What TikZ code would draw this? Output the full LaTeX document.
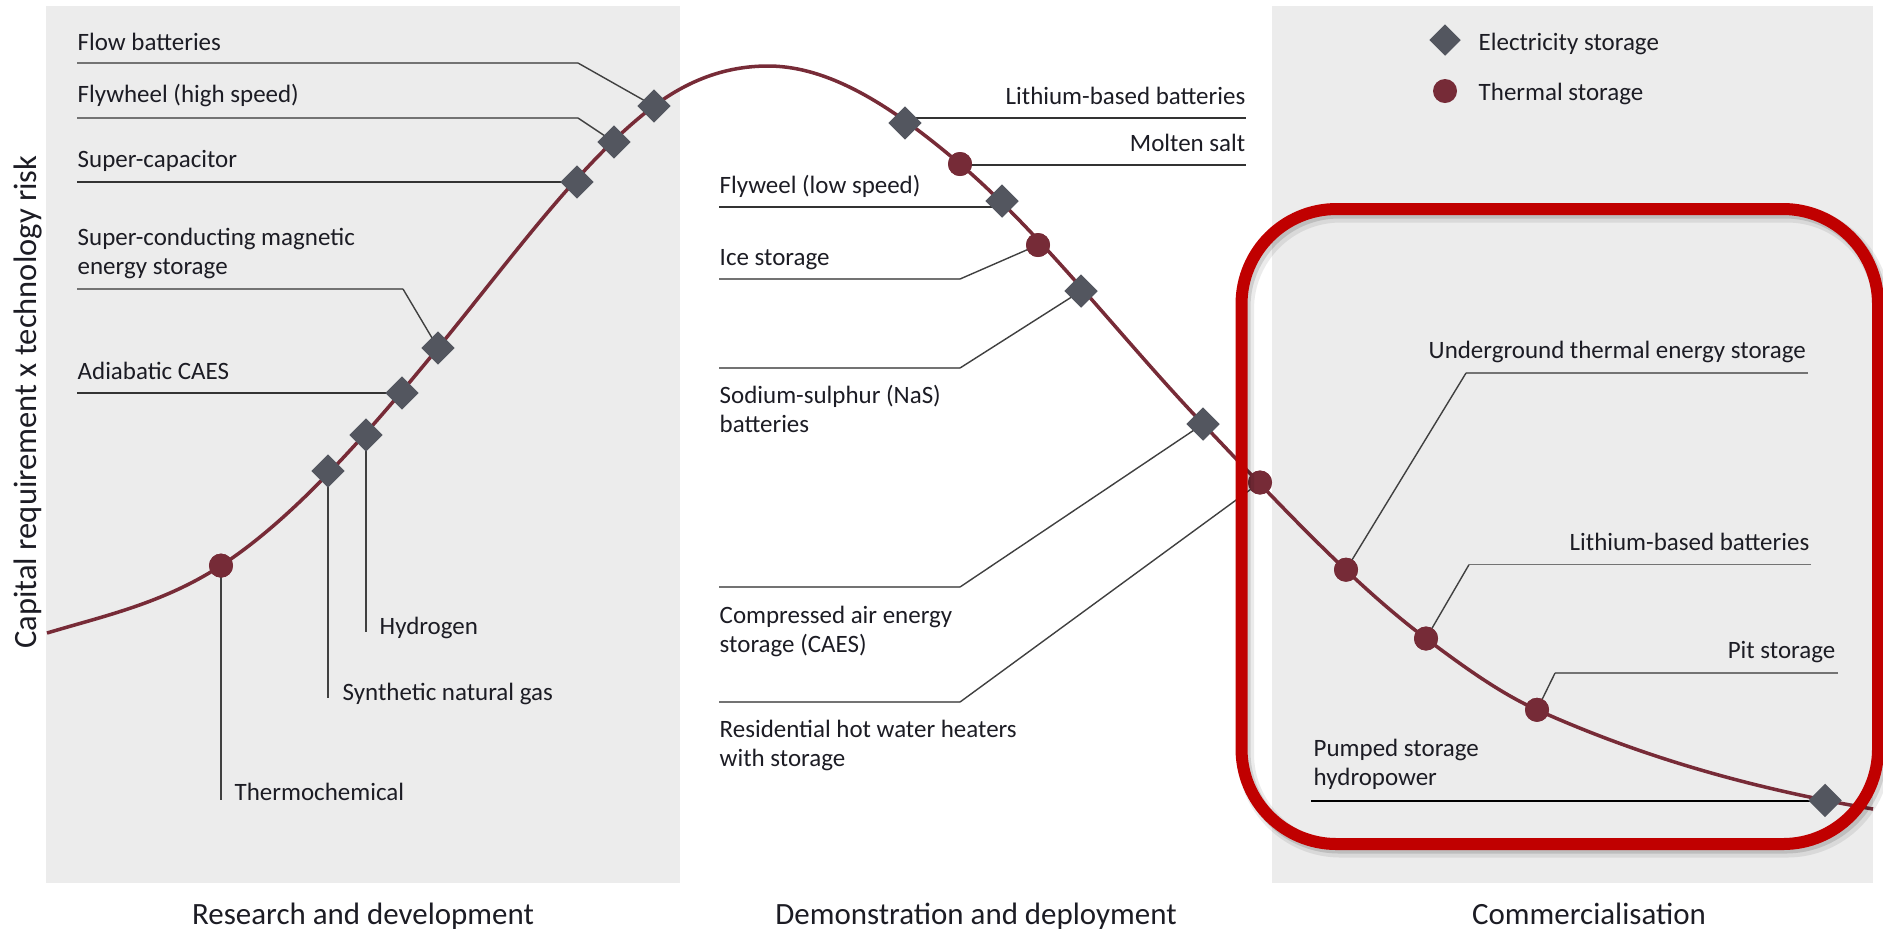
\documentclass[tikz,border=0pt]{standalone}
\usepackage{fontspec}
\setmainfont{Carlito}
\usetikzlibrary{shapes.geometric}
\definecolor{panelc}{HTML}{ECECEC}
\definecolor{curvec}{HTML}{772B37}
\definecolor{diamc}{HTML}{53565F}
\definecolor{circc}{HTML}{762B37}
\definecolor{boxred}{HTML}{C00000}
\definecolor{txt}{HTML}{1C1C24}
\begin{document}
\begin{tikzpicture}[x=0.01cm,y=-0.01cm,
  elec/.style={diamond, fill=diamc, inner sep=0pt, minimum width=0.32cm, minimum height=0.32cm},
  therm/.style={circle, fill=circc, inner sep=0pt, minimum size=0.24cm},
  lbl/.style={font=\fontsize{7.1pt}{8.2pt}\selectfont, inner sep=0pt, text=txt, align=left},
  lblr/.style={lbl, align=right},
  phase/.style={font=\fontsize{8.8pt}{10pt}\selectfont, inner sep=0pt, text=txt},
  leadh/.style={draw=black!55, line width=0.45pt},
  leadk/.style={draw=black!80, line width=0.45pt},
  leadd/.style={draw=black!75, line width=0.4pt},
]
\useasboundingbox (0,0) rectangle (1883,932);
% panels
\fill[panelc] (46,6) rectangle (680,883);
\fill[panelc] (1272,6) rectangle (1873,883);

% curve
\draw[curvec, line width=1.0pt]
  (47,633) .. controls (105,615.6) and (163,603.3) .. (221,565.6)
  .. controls (293,518.8) and (366,435.8) .. (438,348)
  .. controls (510,260.2) and (582,160) .. (654,106)
  .. controls (692,77.5) and (730,66) .. (768,66)
  .. controls (832,66) and (896,109.6) .. (960,164)
  .. controls (1041,232.9) and (1122,339) .. (1203,424)
  .. controls (1277,501.7) and (1352,583) .. (1426,638.5)
  .. controls (1463,666.3) and (1500,693.1) .. (1537,709.8)
  .. controls (1649,760.2) and (1761,790) .. (1873,809);

% markers
\node[elec] (flow) at (654,106) {};
\node[elec] (flyh) at (614,142) {};
\node[elec] (scap) at (577,182) {};
\node[elec] (smes) at (438,348) {};
\node[elec] (acaes) at (402,393) {};
\node[elec] (hydro) at (366,435) {};
\node[elec] (sng) at (328,471) {};
\node[therm] (thermo) at (221,565.6) {};
\node[elec] (limid) at (905,123) {};
\node[therm] (molten) at (960,164) {};
\node[elec] (flyl) at (1002,201) {};
\node[therm] (ice) at (1038,245) {};
\node[elec] (nas) at (1081,291) {};
\node[elec] (caes) at (1203,424) {};
\node[therm] (resid) at (1260,482.5) {};
\node[therm] (utes) at (1346,569.7) {};
\node[therm] (liright) at (1426,638.5) {};
\node[therm] (pit) at (1537,709.8) {};
\node[elec] (phs) at (1825,800.4) {};

% leader coordinates
\coordinate (flowA) at (77,63);   \coordinate (flowB) at (578,63);
\coordinate (flyhA) at (77,118);  \coordinate (flyhB) at (578,118);
\coordinate (scapA) at (77,182);
\coordinate (smesA) at (77,289);  \coordinate (smesB) at (403,289);
\coordinate (acaesA) at (77,393);
\coordinate (hydroE) at (366,632);
\coordinate (sngE) at (328,698);
\coordinate (thermoE) at (221,800);
\coordinate (limidE) at (1246,118);
\coordinate (moltenE) at (1246,165);
\coordinate (flylA) at (719,207);
\coordinate (iceA) at (719,279);  \coordinate (iceB) at (960,279);
\coordinate (nasA) at (719,368);  \coordinate (nasB) at (960,368);
\coordinate (caesA) at (719,587); \coordinate (caesB) at (960,587);
\coordinate (residA) at (719,702);\coordinate (residB) at (960,702);
\coordinate (utesA) at (1808,373);\coordinate (utesB) at (1466,373);
\coordinate (lirA) at (1811,564.6); \coordinate (lirB) at (1469,564.6);
\coordinate (pitA) at (1838,673); \coordinate (pitB) at (1555,673);
\coordinate (phsA) at (1311,801);

% leaders
\draw[leadh] (flowA) -- (flowB);  \draw[leadd] (flowB) -- (flow.center);
\draw[leadh] (flyhA) -- (flyhB);  \draw[leadd] (flyhB) -- (flyh.center);
\draw[leadk] (scapA) -- (scapA -| scap);
\draw[leadh] (smesA) -- (smesB);  \draw[leadd] (smesB) -- (smes.center);
\draw[leadk] (acaesA) -- (acaesA -| acaes);
\draw[leadd] (hydro.center) -- (hydroE);
\draw[leadd] (sng.center) -- (sngE);
\draw[leadd] (thermo.center) -- (thermoE);
\draw[leadk] (limidE -| limid) -- (limidE);
\draw[leadk] (moltenE -| molten) -- (moltenE);
\draw[leadk] (flylA) -- (flylA -| flyl);
\draw[leadh] (iceA) -- (iceB);    \draw[leadd] (iceB) -- (ice.center);
\draw[leadh] (nasA) -- (nasB);    \draw[leadd] (nasB) -- (nas.center);
\draw[leadh] (caesA) -- (caesB);  \draw[leadd] (caesB) -- (caes.center);
\draw[leadh] (residA) -- (residB);\draw[leadd] (residB) -- (resid.center);
\draw[leadh] (utesA) -- (utesB);  \draw[leadd] (utesB) -- (utes.center);
\draw[leadh] (lirA) -- (lirB);    \draw[leadd] (lirB) -- (liright.center);
\draw[leadh] (pitA) -- (pitB);    \draw[leadd] (pitB) -- (pit.center);
\draw[draw=black, line width=0.45pt] (phsA) -- (phsA -| phs);

% redraw markers on top of the leaders
\foreach \n in {flow,flyh,scap,smes,acaes,hydro,sng,limid,flyl,nas,caes,phs}
  \fill[diamc] (\n.north) -- (\n.east) -- (\n.south) -- (\n.west) -- cycle;
\foreach \n in {thermo,molten,ice,resid,utes,liright,pit}
  \fill[circc] (\n.center) circle (12);

% legend
\node[elec] (legE) at (1445,40) {};
\node[therm] (legT) at (1445,91) {};
\node[lbl, anchor=base west] (legEt) at (1478,50) {Electricity storage};
\node[lbl, anchor=base west] (legTt) at (1478,100) {Thermal storage};

% labels (multi-line labels are anchored at the baseline of their last line)
\node[lbl, anchor=base west] (tflow) at (77,50) {Flow batteries};
\node[lbl, anchor=base west] (tflyh) at (77,102) {Flywheel (high speed)};
\node[lbl, anchor=base west] (tscap) at (77,167) {Super-capacitor};
\node[lbl, anchor=base west] (tsmes) at (77,274) {Super-conducting magnetic\\energy storage};
\node[lbl, anchor=base west] (tacaes) at (77,379) {Adiabatic CAES};
\node[lbl, anchor=base west] (thydro) at (379,634) {Hydrogen};
\node[lbl, anchor=base west] (tsng) at (342,700) {Synthetic natural gas};
\node[lbl, anchor=base west] (tthermo) at (234,800) {Thermochemical};

\node[lblr, anchor=base east] (tlimid) at (1246,104) {Lithium-based batteries};
\node[lblr, anchor=base east] (tmolten) at (1246,151) {Molten salt};
\node[lbl, anchor=base west] (tflyl) at (719,193) {Flyweel (low speed)};
\node[lbl, anchor=base west] (tice) at (719,265) {Ice storage};
\node[lbl, anchor=base west] (tnas) at (719,432) {Sodium-sulphur (NaS)\\batteries};
\node[lbl, anchor=base west] (tcaes) at (719,652.8) {Compressed air energy\\storage (CAES)};
\node[lbl, anchor=base west] (tresid) at (719,766.5) {Residential hot water heaters\\with storage};

\node[lbl, anchor=base west] (tutes) at (1428,358) {Underground thermal energy storage};
\node[lblr, anchor=base east] (tlir) at (1810,550) {Lithium-based batteries};
\node[lblr, anchor=base east] (tpit) at (1836,658.6) {Pit storage};
\node[lbl, anchor=base west] (tphs) at (1313,785) {Pumped storage\\hydropower};

% red highlight box with soft shadow
\draw[black, opacity=0.08, line width=0.17cm, rounded corners=0.95cm] (1245.5,214) rectangle (1882,849);
\draw[black, opacity=0.12, line width=0.13cm, rounded corners=0.95cm] (1244,212) rectangle (1880.5,847);
\draw[boxred, line width=0.12cm, rounded corners=0.95cm] (1241.5,209) rectangle (1878,844);

% axis and phases
\node[phase, font=\fontsize{9.25pt}{10pt}\selectfont, rotate=90, anchor=base] (yax) at (36,402) {Capital requirement x technology risk};
\node[phase, anchor=base] (ph1) at (363,924) {Research and development};
\node[phase, anchor=base] (ph2) at (976,924) {Demonstration and deployment};
\node[phase, anchor=base] (ph3) at (1589,924) {Commercialisation};
\end{tikzpicture}
\end{document}
